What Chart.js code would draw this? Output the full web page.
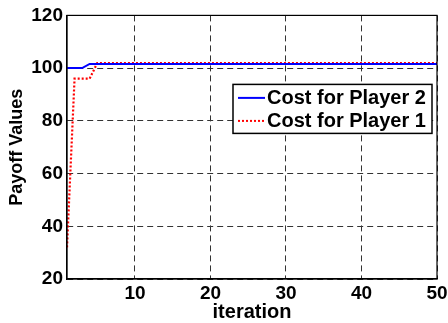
<!DOCTYPE html>
<html>
<head>
<meta charset="utf-8">
<script src="https://cdn.jsdelivr.net/npm/chart.js@4"></script>
<style>
  html, body { margin: 0; padding: 0; background: #fff; }
  #wrap { width: 448px; height: 323px; }
</style>
</head>
<body>
<div id="wrap"><canvas id="myChart" width="448" height="323"></canvas></div>
<script>
const iteraciones = [
  1, 2, 3, 4, 5, 6, 7, 8, 9, 10,
  11, 12, 13, 14, 15, 16, 17, 18, 19, 20,
  21, 22, 23, 24, 25, 26, 27, 28, 29, 30,
  31, 32, 33, 34, 35, 36, 37, 38, 39, 40,
  41, 42, 43, 44, 45, 46, 47, 48, 49, 50
];
const costoJugador2 = [
  100, 100, 100, 101.6, 101.6, 101.6, 101.6, 101.6, 101.6, 101.6,
  101.6, 101.6, 101.6, 101.6, 101.6, 101.6, 101.6, 101.6, 101.6, 101.6,
  101.6, 101.6, 101.6, 101.6, 101.6, 101.6, 101.6, 101.6, 101.6, 101.6,
  101.6, 101.6, 101.6, 101.6, 101.6, 101.6, 101.6, 101.6, 101.6, 101.6,
  101.6, 101.6, 101.6, 101.6, 101.6, 101.6, 101.6, 101.6, 101.6, 101.6
];
const costoJugador1 = [
  32, 96, 96, 96, 101.9, 101.9, 101.9, 101.9, 101.9, 101.9,
  101.9, 101.9, 101.9, 101.9, 101.9, 101.9, 101.9, 101.9, 101.9, 101.9,
  101.9, 101.9, 101.9, 101.9, 101.9, 101.9, 101.9, 101.9, 101.9, 101.9,
  101.9, 101.9, 101.9, 101.9, 101.9, 101.9, 101.9, 101.9, 101.9, 101.9,
  101.9, 101.9, 101.9, 101.9, 101.9, 101.9, 101.9, 101.9, 101.9, 101.9
];
const ticksX = [10, 20, 30, 40, 50];
const etiquetas = ["Cost for Player 2", "Cost for Player 1"];

const fuente = "'Liberation Sans', Arial, Helvetica, sans-serif";
const myChart = document.getElementById("myChart");

const aPuntos = (valores) => valores.map((v, i) => ({ x: iteraciones[i], y: v }));

// caja completa alrededor del area (estilo matlab)
const cajaPlugin = {
  id: "caja",
  afterDatasetsDraw(chart) {
    const { ctx, chartArea } = chart;
    ctx.save();
    ctx.strokeStyle = "#000";
    ctx.lineWidth = 1.2;
    ctx.strokeRect(chartArea.left, chartArea.top, chartArea.right - chartArea.left, chartArea.bottom - chartArea.top);
    ctx.restore();
  },
};

// leyenda dentro del grafico, arriba a la derecha
const leyendaPlugin = {
  id: "leyendaDentro",
  afterDraw(chart) {
    const { ctx, chartArea } = chart;
    const ancho = 199;
    const alto = 49;
    const x0 = chartArea.right - 5 - ancho;
    const y0 = chartArea.top + 69;
    ctx.save();
    ctx.fillStyle = "#fff";
    ctx.fillRect(x0, y0, ancho, alto);
    ctx.strokeStyle = "#000";
    ctx.lineWidth = 1.5;
    ctx.strokeRect(x0, y0, ancho, alto);
    ctx.font = "bold 20px " + fuente;
    ctx.textBaseline = "middle";
    chart.data.datasets.forEach((ds, i) => {
      const yy = y0 + 13.5 + i * 23;
      ctx.beginPath();
      ctx.strokeStyle = ds.borderColor;
      ctx.lineWidth = 2;
      ctx.setLineDash(ds.borderDash || []);
      ctx.moveTo(x0 + 5, yy);
      ctx.lineTo(x0 + 32, yy);
      ctx.stroke();
      ctx.setLineDash([]);
      ctx.fillStyle = "#000";
      ctx.fillText(ds.label, x0 + 34, yy + 1);
    });
    ctx.restore();
  },
};

const grafico = new Chart(myChart, {
  type: "line",
  data: {
    datasets: [
      {
        label: etiquetas[0],
        data: aPuntos(costoJugador2),
        borderColor: "#0000ff",
        borderWidth: 2,
        pointRadius: 0,
        tension: 0,
      },
      {
        label: etiquetas[1],
        data: aPuntos(costoJugador1),
        borderColor: "#ff0000",
        borderWidth: 2.2,
        borderDash: [2, 2],
        pointRadius: 0,
        tension: 0,
      },
    ],
  },
  options: {
    responsive: false,
    animation: false,
    layout: { padding: { top: 14, right: 11, left: 0, bottom: 0 } },
    plugins: {
      legend: { display: false },
      tooltip: { enabled: false },
    },
    scales: {
      x: {
        type: "linear",
        min: 1,
        max: 50,
        afterBuildTicks: (scale) => {
          scale.ticks = ticksX.map((v) => ({ value: v }));
        },
        afterFit: (scale) => {
          scale.height = 44;
          scale.paddingRight = 0;
          scale.paddingLeft = 0;
        },
        ticks: {
          color: "#000",
          padding: 3,
          maxRotation: 0,
          font: { family: fuente, size: 19, weight: "bold" },
        },
        grid: { color: "#333", lineWidth: 1, drawTicks: false },
        border: { color: "#000", width: 1.2, dash: [6, 4] },
        title: {
          display: true,
          text: "iteration",
          color: "#000",
          padding: { top: 0, bottom: 0 },
          font: { family: fuente, size: 20, weight: "bold", lineHeight: 1.1 },
        },
      },
      y: {
        min: 20,
        max: 120,
        afterFit: (scale) => {
          scale.width = 67;
        },
        ticks: {
          stepSize: 20,
          color: "#000",
          padding: 4,
          font: { family: fuente, size: 19, weight: "bold" },
        },
        grid: { color: "#333", lineWidth: 1, drawTicks: false },
        border: { color: "#000", width: 1.2, dash: [6, 4] },
        title: {
          display: true,
          text: "Payoff Values",
          color: "#000",
          padding: { top: 6, bottom: 0 },
          font: { family: fuente, size: 18, weight: "bold" },
        },
      },
    },
  },
  plugins: [cajaPlugin, leyendaPlugin],
});
</script>
</body>
</html>
